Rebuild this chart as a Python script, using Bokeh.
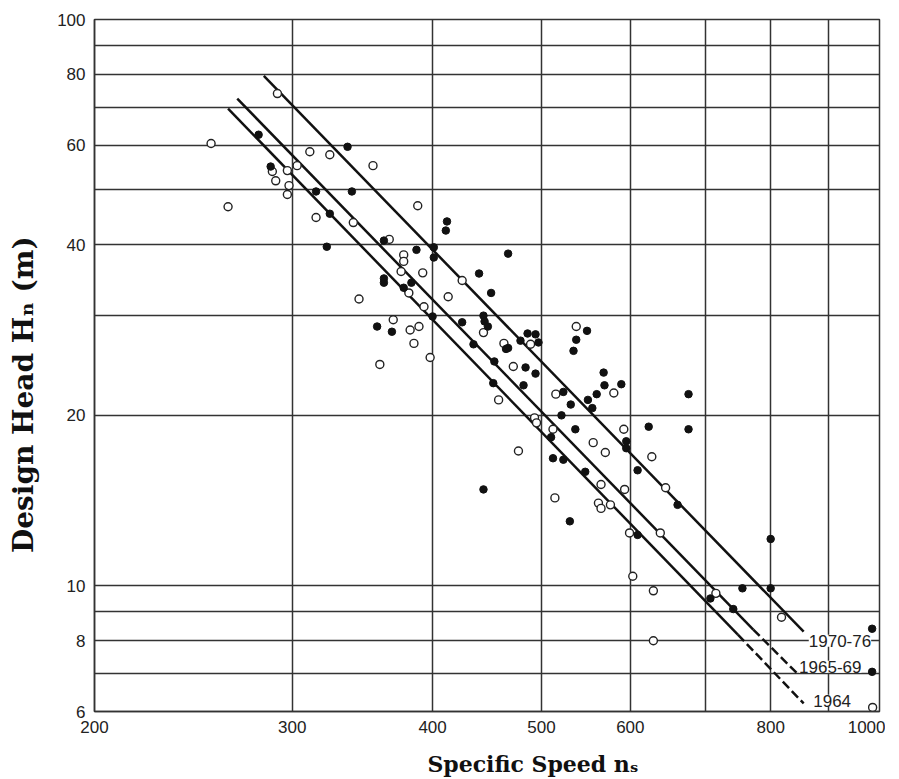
from bokeh.plotting import figure
from bokeh.models import Range1d, FixedTicker, Label, ColumnDataSource
from bokeh.embed import file_html
from bokeh.resources import INLINE

# ---- data ----
open_ns = [254, 263, 291, 288, 290, 297, 303, 298, 297, 311, 324, 315, 340, 354,
           388, 366, 377, 377, 375, 392, 425, 381, 344, 413, 393, 369, 382, 389,
           385, 398, 359, 444, 463, 472, 489, 458, 537, 515, 580, 493, 495, 512,
           477, 592, 556, 570, 627, 565, 593, 645, 514, 562, 565, 576, 599, 638,
           603, 629, 629, 715, 818, 986]
open_h = [60.4, 46.7, 74.0, 53.9, 51.9, 54.1, 55.2, 50.9, 49.1, 58.4, 57.7, 44.7, 43.8, 55.2,
          46.9, 40.9, 38.4, 37.4, 35.9, 35.7, 34.6, 32.9, 32.1, 32.4, 31.1, 29.5, 28.3, 28.7,
          26.8, 25.3, 24.6, 28.0, 26.8, 24.4, 26.7, 21.3, 28.7, 21.8, 21.9, 19.8, 19.4, 18.9,
          17.3, 18.9, 17.9, 17.2, 16.9, 15.1, 14.8, 14.9, 14.3, 14.0, 13.7, 13.9, 12.4, 12.4,
          10.4, 9.8, 8.0, 9.7, 8.8, 6.1]

filled_ns = [280, 287, 336, 339, 315, 324, 322, 362, 387, 401, 401, 412, 411, 467,
             440, 451, 362, 362, 383, 377, 400, 357, 368, 425, 435, 444, 445, 448,
             454, 465, 467, 484, 494, 486, 494, 497, 479, 453, 482, 549, 537, 534,
             523, 531, 550, 555, 560, 521, 568, 589, 569, 536, 623, 676, 676, 595,
             595, 609, 510, 523, 512, 547, 444, 530, 661, 609, 707, 741, 755, 800,
             800, 985, 985]
filled_h = [62.6, 55.0, 59.6, 49.7, 49.7, 45.4, 39.7, 40.7, 39.2, 39.6, 38.0, 44.0, 42.4, 38.6,
            35.6, 32.9, 34.9, 34.3, 34.3, 33.6, 29.9, 28.7, 28.1, 29.2, 26.7, 30.0, 29.3, 28.7,
            24.9, 26.2, 26.3, 24.3, 23.7, 27.9, 27.8, 26.9, 27.1, 22.8, 22.6, 28.2, 27.2, 26.0,
            22.0, 20.9, 21.3, 20.6, 21.8, 20.0, 23.8, 22.7, 22.6, 18.9, 19.1, 21.8, 18.9, 18.0,
            17.5, 16.0, 18.3, 16.7, 16.8, 15.9, 14.8, 13.0, 13.9, 12.3, 9.5, 9.1, 9.9, 9.9,
            12.1, 8.4, 7.05]

trend_names = ["1970-76", "1965-69", "1964"]
trend_start_ns = [283, 268, 263]
trend_start_h = [79.5, 72.5, 69.6]
trend_solid_end_ns = [856, 772, 748]
trend_solid_end_h = [8.3, 8.37, 8.2]
trend_end_ns = [856, 845, 856]
trend_end_h = [8.3, 7.0, 6.2]

x_ticks = [200, 300, 400, 500, 600, 700, 800, 900, 1000]
x_tick_labels = ["200", "300", "400", "500", "600", "", "800", "", "1000"]
y_ticks = [6, 7, 8, 9, 10, 20, 30, 40, 50, 60, 70, 80, 90, 100]
y_tick_labels = ["6", "", "8", "", "10", "20", "", "40", "", "60", "", "80", "", "100"]

x_title = "Specific Speed n\u209b"
y_title = "Design Head H\u2099 (m)"

# ---- figure ----
p = figure(width=885, height=779, x_axis_type="log", y_axis_type="log",
           x_range=Range1d(200, 1000), y_range=Range1d(6, 100),
           output_backend="svg", toolbar_location=None,
           min_border_left=94, min_border_right=6, min_border_top=19, min_border_bottom=68)
p.background_fill_color = "white"
p.border_fill_color = "white"
p.outline_line_color = "#333333"
p.outline_line_width = 1.5

p.xaxis.ticker = FixedTicker(ticks=x_ticks)
p.yaxis.ticker = FixedTicker(ticks=y_ticks)
p.xaxis.major_label_overrides = {t: s for t, s in zip(x_ticks, x_tick_labels)}
p.yaxis.major_label_overrides = {t: s for t, s in zip(y_ticks, y_tick_labels)}
p.xgrid.ticker = FixedTicker(ticks=x_ticks)
p.ygrid.ticker = FixedTicker(ticks=y_ticks)
for g in (p.xgrid, p.ygrid):
    g.grid_line_color = "#333333"
    g.grid_line_width = 1.5
    g.grid_line_alpha = 1.0

for ax in (p.xaxis, p.yaxis):
    ax.axis_line_color = "#333333"
    ax.axis_line_width = 1.5
    ax.major_tick_line_color = None
    ax.minor_tick_line_color = None
    ax.major_label_text_font = "Liberation Sans"
    ax.major_label_text_font_size = "17px"
    ax.major_label_text_color = "#222222"
    ax.major_label_standoff = 3
    ax.axis_label_text_font = "DejaVu Serif"
    ax.axis_label_text_font_style = "bold"
    ax.axis_label_text_color = "#111111"

# titles: padding with no-break spaces shifts them off-centre as in the reference
p.xaxis.axis_label = "\u00a0" * 12 + x_title
p.xaxis.axis_label_text_font_size = "22px"
p.xaxis.axis_label_standoff = 15
p.yaxis.axis_label = y_title + "\u00a0" * 6
p.yaxis.axis_label_text_font_size = "28px"
p.yaxis.axis_label_standoff = 14

# trend lines
for i in range(3):
    p.line([trend_start_ns[i], trend_solid_end_ns[i]], [trend_start_h[i], trend_solid_end_h[i]],
           line_color="#111111", line_width=2.5)
    if trend_end_ns[i] != trend_solid_end_ns[i]:
        p.line([trend_solid_end_ns[i], trend_end_ns[i]], [trend_solid_end_h[i], trend_end_h[i]],
               line_color="#111111", line_width=2.5, line_dash="9 4")

src_open = ColumnDataSource(dict(x=open_ns, y=open_h))
src_fill = ColumnDataSource(dict(x=filled_ns, y=filled_h))
p.scatter("x", "y", source=src_open, marker="circle", size=8,
          fill_color="white", line_color="#222222", line_width=1.4)
p.scatter("x", "y", source=src_fill, marker="circle", size=7.5,
          fill_color="#111111", line_color="#111111", line_width=1.0)

label_pos = [(865, 8.0), (848, 7.2), (873, 6.27)]
for name, (lx, ly) in zip(trend_names, label_pos):
    p.add_layout(Label(x=lx, y=ly, text=name, text_align="left", text_baseline="middle",
                       text_font="Liberation Sans", text_font_size="17px", text_color="#222222",
                       background_fill_color="white", background_fill_alpha=1.0))

open("out.html", "w").write(file_html(p, INLINE))
